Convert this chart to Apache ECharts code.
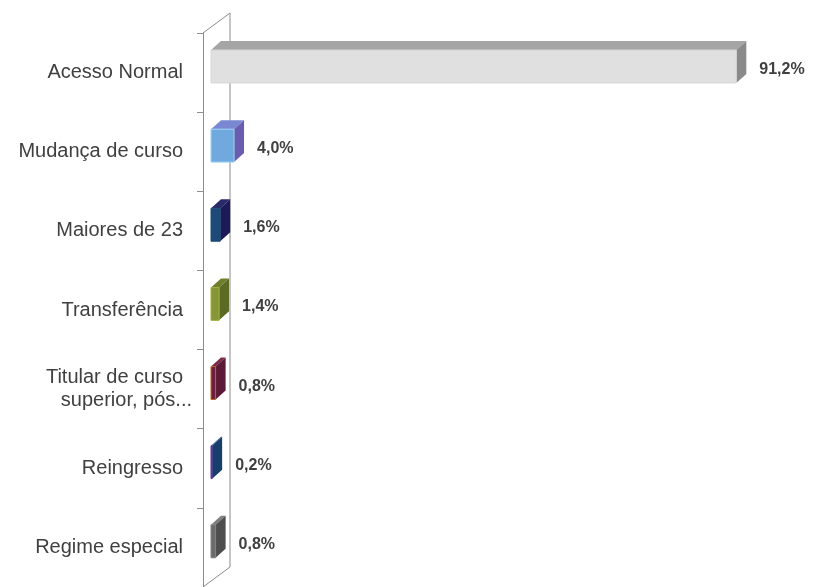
<!DOCTYPE html>
<html><head><meta charset="utf-8">
<script src="https://cdn.jsdelivr.net/npm/echarts@6/dist/echarts.min.js"></script>
<style>html,body{margin:0;padding:0;background:#fff}#c{width:815px;height:587px}</style>
</head><body><div id="c"></div>
<script>
var categories = ['Acesso Normal', 'Mudança de curso', 'Maiores de 23', 'Transferência', 'Titular de curso superior, pós...', 'Reingresso', 'Regime especial'];
var values = [91.2, 4.0, 1.6, 1.4, 0.8, 0.2, 0.8];
var valueLabels = ['91,2%', '4,0%', '1,6%', '1,4%', '0,8%', '0,2%', '0,8%'];
var frontColors = ['#e0e0e0', '#6fa9dd', '#1d4a78', '#869637', '#6c1f3e', '#1d5590', '#6b6b6b'];
var frontBorders = ['#d6d6d6', '#9fd2f6', '#1d4a78', '#a0b040', '#c0651e', '#5a3a9a', '#808080'];
var topColors = ['#a5a5a5', '#7a88d4', '#2a2a6a', '#6f7e2c', '#7a2a4a', '#2a5a9a', '#7e7e7e'];
var sideColors = ['#8a8a8a', '#6a5cae', '#1e1a58', '#5c6a24', '#5a1a38', '#173f6c', '#4e4e4e'];

var chart = echarts.init(document.getElementById('c'), null, {renderer: 'canvas'});

function renderBar(params, api) {
  var v = api.value(0), i = api.value(1);
  var p0 = api.coord([0, i]);
  var p1 = api.coord([v, i]);
  var band = api.size([0, 1])[1];
  var ox = 8, dx = 10, dy = -9;
  var x0 = p0[0] + ox, x1 = p1[0] + ox;
  var yt = p0[1] - band * 0.285, yb = p0[1] + band * 0.131;
  return {
    type: 'group',
    children: [
      {type: 'polygon', shape: {points: [[x0, yt], [x1, yt], [x1 + dx, yt + dy], [x0 + dx, yt + dy]]},
       style: {fill: topColors[i]}},
      {type: 'polygon', shape: {points: [[x1, yt], [x1 + dx, yt + dy], [x1 + dx, yb + dy], [x1, yb]]},
       style: {fill: sideColors[i]}},
      {type: 'rect', shape: {x: x0, y: yt, width: x1 - x0, height: yb - yt},
       style: {fill: frontColors[i], stroke: frontBorders[i], lineWidth: 1}},
      {type: 'text', style: {x: x1 + dx + 13, y: p0[1] - 3, text: valueLabels[i],
        fill: '#404040', font: 'bold 16px "Liberation Sans", Arial, sans-serif',
        align: 'left', verticalAlign: 'middle'}}
    ]
  };
}

function renderFrame(params, api) {
  var cs = params.coordSys;
  var bx = 27, by = -20;
  var st = {stroke: '#8c8c8c', lineWidth: 1, fill: null};
  return {
    type: 'group',
    children: [
      {type: 'line', shape: {x1: cs.x + bx, y1: cs.y + by, x2: cs.x + bx, y2: cs.y + cs.height + by}, style: st},
      {type: 'line', shape: {x1: cs.x, y1: cs.y, x2: cs.x + bx, y2: cs.y + by}, style: st},
      {type: 'line', shape: {x1: cs.x, y1: cs.y + cs.height, x2: cs.x + bx, y2: cs.y + cs.height + by}, style: st}
    ]
  };
}

chart.setOption({
  backgroundColor: '#ffffff',
  animation: false,
  grid: {left: 203, right: 36, top: 33, height: 555},
  xAxis: {type: 'value', min: 0, max: 100, show: false},
  yAxis: {
    type: 'category', data: categories, inverse: true,
    axisLine: {show: true, lineStyle: {color: '#8c8c8c', width: 1}},
    axisTick: {show: true, length: 6, lineStyle: {color: '#8c8c8c'}},
    axisLabel: {
      margin: 11, color: '#404040', fontSize: 20,
      fontFamily: '"Liberation Sans", Arial, sans-serif',
      formatter: function (val) {
        if (val.indexOf('Titular') === 0) {
          return '{n|Titular de curso}\n{m|superior, pós...}';
        }
        return '{n|' + val + '}';
      },
      rich: {
        n: {fontSize: 20, color: '#404040', padding: [0, 9, 0, 0], lineHeight: 23, fontFamily: '"Liberation Sans", Arial, sans-serif'},
        m: {fontSize: 20, color: '#404040', lineHeight: 23, fontFamily: '"Liberation Sans", Arial, sans-serif'}
      }
    }
  },
  series: [
    {type: 'custom', renderItem: renderFrame, data: [[0, 0]], encode: {x: 0, y: 1}, clip: false, z: 1, silent: true},
    {type: 'custom', renderItem: renderBar, data: values.map(function (v, i) { return [v, i]; }), encode: {x: 0, y: 1}, clip: false, z: 2}
  ]
});
</script>
</body></html>
